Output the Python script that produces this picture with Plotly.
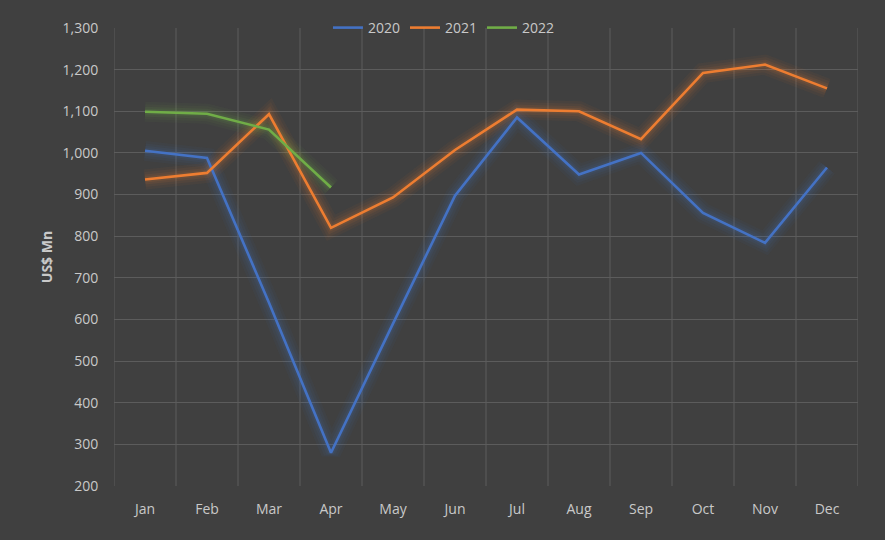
import plotly.graph_objects as go

months = ["Jan", "Feb", "Mar", "Apr", "May", "Jun", "Jul", "Aug", "Sep", "Oct", "Nov", "Dec"]
y2020 = [1005, 988, 640, 280, 590, 897, 1085, 948, 1000, 856, 784, 965]
y2021 = [936, 952, 1093, 820, 893, 1007, 1104, 1100, 1033, 1192, 1212, 1155]
y2022 = [1099, 1094, 1056, 917]
months2022 = months[:4]

series = [
    ("2020", months, y2020, "#4472C4", (68, 114, 196)),
    ("2021", months, y2021, "#ED7D31", (237, 125, 49)),
    ("2022", months2022, y2022, "#70AD47", (112, 173, 71)),
]

fig = go.Figure()
# soft glow layers
for name, xs, ys, col, rgb in series:
    for w, a in ((20, 0.05), (15, 0.06), (10, 0.08), (6, 0.10)):
        fig.add_trace(go.Scatter(x=xs, y=ys, mode="lines",
                                 line=dict(color=f"rgba({rgb[0]},{rgb[1]},{rgb[2]},{a})", width=w),
                                 showlegend=False, hoverinfo="skip"))
for name, xs, ys, col, rgb in series:
    fig.add_trace(go.Scatter(x=xs, y=ys, mode="lines", name=name,
                             line=dict(color=col, width=2.6)))

txt = "#c9c9c9"
fig.update_layout(
    width=885, height=540,
    paper_bgcolor="#404040", plot_bgcolor="#404040",
    margin=dict(l=114, r=27, t=21, b=54),
    font=dict(family="Open Sans, Noto Sans, sans-serif", size=14, color=txt),
    legend=dict(orientation="h", x=0.4435, xanchor="center", y=1.0, yanchor="middle",
                bgcolor="rgba(0,0,0,0)", font=dict(size=14, color=txt),
                itemwidth=30, tracegroupgap=0),
    showlegend=True,
)
fig.update_xaxes(
    categoryorder="array", categoryarray=months,
    range=[-0.5, 11.5],
    showgrid=False, zeroline=False,
    ticks="outside", ticklen=10, tickcolor="rgba(0,0,0,0)",
    showline=False,
)
# vertical gridlines at category boundaries
for i in range(13):
    fig.add_shape(type="line", xref="x", yref="paper", x0=i - 0.5, x1=i - 0.5, y0=0, y1=1,
                  line=dict(color="#5c5c5c", width=1), layer="below")
fig.update_yaxes(
    range=[200, 1300], dtick=100, tickformat=",",
    gridcolor="#5c5c5c", gridwidth=1, zeroline=False,
    ticks="outside", ticklen=12, tickcolor="rgba(0,0,0,0)",
    title=dict(text="<b>US$ Mn</b>", font=dict(size=14, color=txt), standoff=6),
)
fig.write_html("out.html")
